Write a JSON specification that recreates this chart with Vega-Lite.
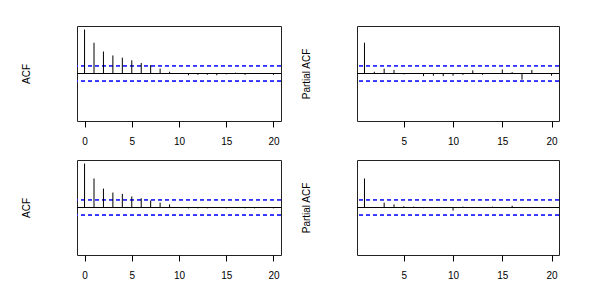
{
  "$schema": "https://vega.github.io/schema/vega-lite/v6.json",
  "background": "white",
  "padding": {"left": 20, "top": 25, "right": 5, "bottom": 5},
  "bounds": "flush",
  "columns": 2,
  "spacing": {"row": 39, "column": 76},
  "config": {
    "font": "Liberation Sans",
    "view": {"stroke": "#222", "strokeWidth": 1},
    "axis": {"grid": false, "titleFontWeight": "normal", "titleFontSize": 10, "titleColor": "#000", "labelColor": "#000", "labelFontSize": 10}
  },
  "datasets": {
    "acf1": [
      {"lag": 0, "value": 1.0}, {"lag": 1, "value": 0.70}, {"lag": 2, "value": 0.50}, {"lag": 3, "value": 0.41},
      {"lag": 4, "value": 0.36}, {"lag": 5, "value": 0.30}, {"lag": 6, "value": 0.24}, {"lag": 7, "value": 0.19},
      {"lag": 8, "value": 0.11}, {"lag": 9, "value": 0.04}, {"lag": 10, "value": 0.0}, {"lag": 11, "value": -0.04},
      {"lag": 12, "value": -0.03}, {"lag": 13, "value": -0.03}, {"lag": 14, "value": -0.04}, {"lag": 15, "value": -0.02},
      {"lag": 16, "value": 0.02}, {"lag": 17, "value": -0.03}, {"lag": 18, "value": -0.01}, {"lag": 19, "value": -0.01},
      {"lag": 20, "value": -0.03}
    ],
    "pacf1": [
      {"lag": 1, "value": 0.70}, {"lag": 2, "value": 0.04}, {"lag": 3, "value": 0.11}, {"lag": 4, "value": 0.08},
      {"lag": 5, "value": -0.02}, {"lag": 6, "value": 0.01}, {"lag": 7, "value": -0.06}, {"lag": 8, "value": -0.05},
      {"lag": 9, "value": -0.06}, {"lag": 10, "value": -0.05}, {"lag": 11, "value": -0.03}, {"lag": 12, "value": 0.07},
      {"lag": 13, "value": -0.03}, {"lag": 14, "value": 0.0}, {"lag": 15, "value": 0.09}, {"lag": 16, "value": 0.03},
      {"lag": 17, "value": -0.14}, {"lag": 18, "value": 0.08}, {"lag": 19, "value": -0.01}, {"lag": 20, "value": -0.05}
    ],
    "acf2": [
      {"lag": 0, "value": 1.0}, {"lag": 1, "value": 0.66}, {"lag": 2, "value": 0.43}, {"lag": 3, "value": 0.34},
      {"lag": 4, "value": 0.31}, {"lag": 5, "value": 0.25}, {"lag": 6, "value": 0.21}, {"lag": 7, "value": 0.16},
      {"lag": 8, "value": 0.11}, {"lag": 9, "value": 0.07}, {"lag": 10, "value": 0.01}, {"lag": 11, "value": -0.02},
      {"lag": 12, "value": -0.02}, {"lag": 13, "value": -0.02}, {"lag": 14, "value": -0.01}, {"lag": 15, "value": -0.02},
      {"lag": 16, "value": -0.01}, {"lag": 17, "value": -0.02}, {"lag": 18, "value": -0.02}, {"lag": 19, "value": -0.01},
      {"lag": 20, "value": -0.02}
    ],
    "pacf2": [
      {"lag": 1, "value": 0.66}, {"lag": 2, "value": 0.01}, {"lag": 3, "value": 0.11}, {"lag": 4, "value": 0.07},
      {"lag": 5, "value": 0.03}, {"lag": 6, "value": 0.02}, {"lag": 7, "value": -0.015}, {"lag": 8, "value": 0.01},
      {"lag": 9, "value": -0.01}, {"lag": 10, "value": -0.07}, {"lag": 11, "value": 0.02}, {"lag": 12, "value": -0.01},
      {"lag": 13, "value": 0.01}, {"lag": 14, "value": 0.02}, {"lag": 15, "value": -0.01}, {"lag": 16, "value": 0.04},
      {"lag": 17, "value": 0.01}, {"lag": 18, "value": 0.005}, {"lag": 19, "value": -0.005}, {"lag": 20, "value": 0.005}
    ]
  },
  "concat": [
    {
      "width": 204, "height": 95,
      "data": {"name": "acf1"},
      "layer": [
        {"mark": {"type": "rule", "color": "#000", "strokeWidth": 1}, "encoding": {"y": {"datum": 0}}},
        {"mark": {"type": "rule", "color": "#3333ff", "strokeWidth": 1, "strokeDash": [4, 3]}, "encoding": {"y": {"datum": 0.18}}},
        {"mark": {"type": "rule", "color": "#3333ff", "strokeWidth": 1, "strokeDash": [4, 3]}, "encoding": {"y": {"datum": -0.18}}},
        {
          "mark": {"type": "rule", "color": "#000", "strokeWidth": 1},
          "encoding": {
            "x": {"field": "lag", "type": "quantitative", "scale": {"domain": [-0.8, 20.8], "nice": false, "zero": false},
              "axis": {"title": null, "values": [0, 5, 10, 15, 20], "domain": false, "tickSize": 6, "tickColor": "#000", "labelPadding": 9}},
            "y": {"field": "value", "type": "quantitative", "scale": {"domain": [-1.08, 1.08], "nice": false},
              "axis": {"title": "ACF", "labels": false, "ticks": false, "domain": false, "titlePadding": 46}},
            "y2": {"datum": 0}
          }
        }
      ]
    },
    {
      "width": 202, "height": 95,
      "data": {"name": "pacf1"},
      "layer": [
        {"mark": {"type": "rule", "color": "#000", "strokeWidth": 1}, "encoding": {"y": {"datum": 0}}},
        {"mark": {"type": "rule", "color": "#3333ff", "strokeWidth": 1, "strokeDash": [4, 3]}, "encoding": {"y": {"datum": 0.18}}},
        {"mark": {"type": "rule", "color": "#3333ff", "strokeWidth": 1, "strokeDash": [4, 3]}, "encoding": {"y": {"datum": -0.18}}},
        {
          "mark": {"type": "rule", "color": "#000", "strokeWidth": 1},
          "encoding": {
            "x": {"field": "lag", "type": "quantitative", "scale": {"domain": [0.24, 20.76], "nice": false, "zero": false},
              "axis": {"title": null, "values": [5, 10, 15, 20], "domain": false, "tickSize": 6, "tickColor": "#000", "labelPadding": 9}},
            "y": {"field": "value", "type": "quantitative", "scale": {"domain": [-1.08, 1.08], "nice": false},
              "axis": {"title": "Partial ACF", "labels": false, "ticks": false, "domain": false, "titlePadding": 46}},
            "y2": {"datum": 0}
          }
        }
      ]
    },
    {
      "width": 204, "height": 95,
      "data": {"name": "acf2"},
      "layer": [
        {"mark": {"type": "rule", "color": "#000", "strokeWidth": 1}, "encoding": {"y": {"datum": 0}}},
        {"mark": {"type": "rule", "color": "#3333ff", "strokeWidth": 1, "strokeDash": [4, 3]}, "encoding": {"y": {"datum": 0.18}}},
        {"mark": {"type": "rule", "color": "#3333ff", "strokeWidth": 1, "strokeDash": [4, 3]}, "encoding": {"y": {"datum": -0.18}}},
        {
          "mark": {"type": "rule", "color": "#000", "strokeWidth": 1},
          "encoding": {
            "x": {"field": "lag", "type": "quantitative", "scale": {"domain": [-0.8, 20.8], "nice": false, "zero": false},
              "axis": {"title": null, "values": [0, 5, 10, 15, 20], "domain": false, "tickSize": 6, "tickColor": "#000", "labelPadding": 9}},
            "y": {"field": "value", "type": "quantitative", "scale": {"domain": [-1.08, 1.08], "nice": false},
              "axis": {"title": "ACF", "labels": false, "ticks": false, "domain": false, "titlePadding": 46}},
            "y2": {"datum": 0}
          }
        }
      ]
    },
    {
      "width": 202, "height": 95,
      "data": {"name": "pacf2"},
      "layer": [
        {"mark": {"type": "rule", "color": "#000", "strokeWidth": 1}, "encoding": {"y": {"datum": 0}}},
        {"mark": {"type": "rule", "color": "#3333ff", "strokeWidth": 1, "strokeDash": [4, 3]}, "encoding": {"y": {"datum": 0.18}}},
        {"mark": {"type": "rule", "color": "#3333ff", "strokeWidth": 1, "strokeDash": [4, 3]}, "encoding": {"y": {"datum": -0.18}}},
        {
          "mark": {"type": "rule", "color": "#000", "strokeWidth": 1},
          "encoding": {
            "x": {"field": "lag", "type": "quantitative", "scale": {"domain": [0.24, 20.76], "nice": false, "zero": false},
              "axis": {"title": null, "values": [5, 10, 15, 20], "domain": false, "tickSize": 6, "tickColor": "#000", "labelPadding": 9}},
            "y": {"field": "value", "type": "quantitative", "scale": {"domain": [-1.08, 1.08], "nice": false},
              "axis": {"title": "Partial ACF", "labels": false, "ticks": false, "domain": false, "titlePadding": 46}},
            "y2": {"datum": 0}
          }
        }
      ]
    }
  ]
}
